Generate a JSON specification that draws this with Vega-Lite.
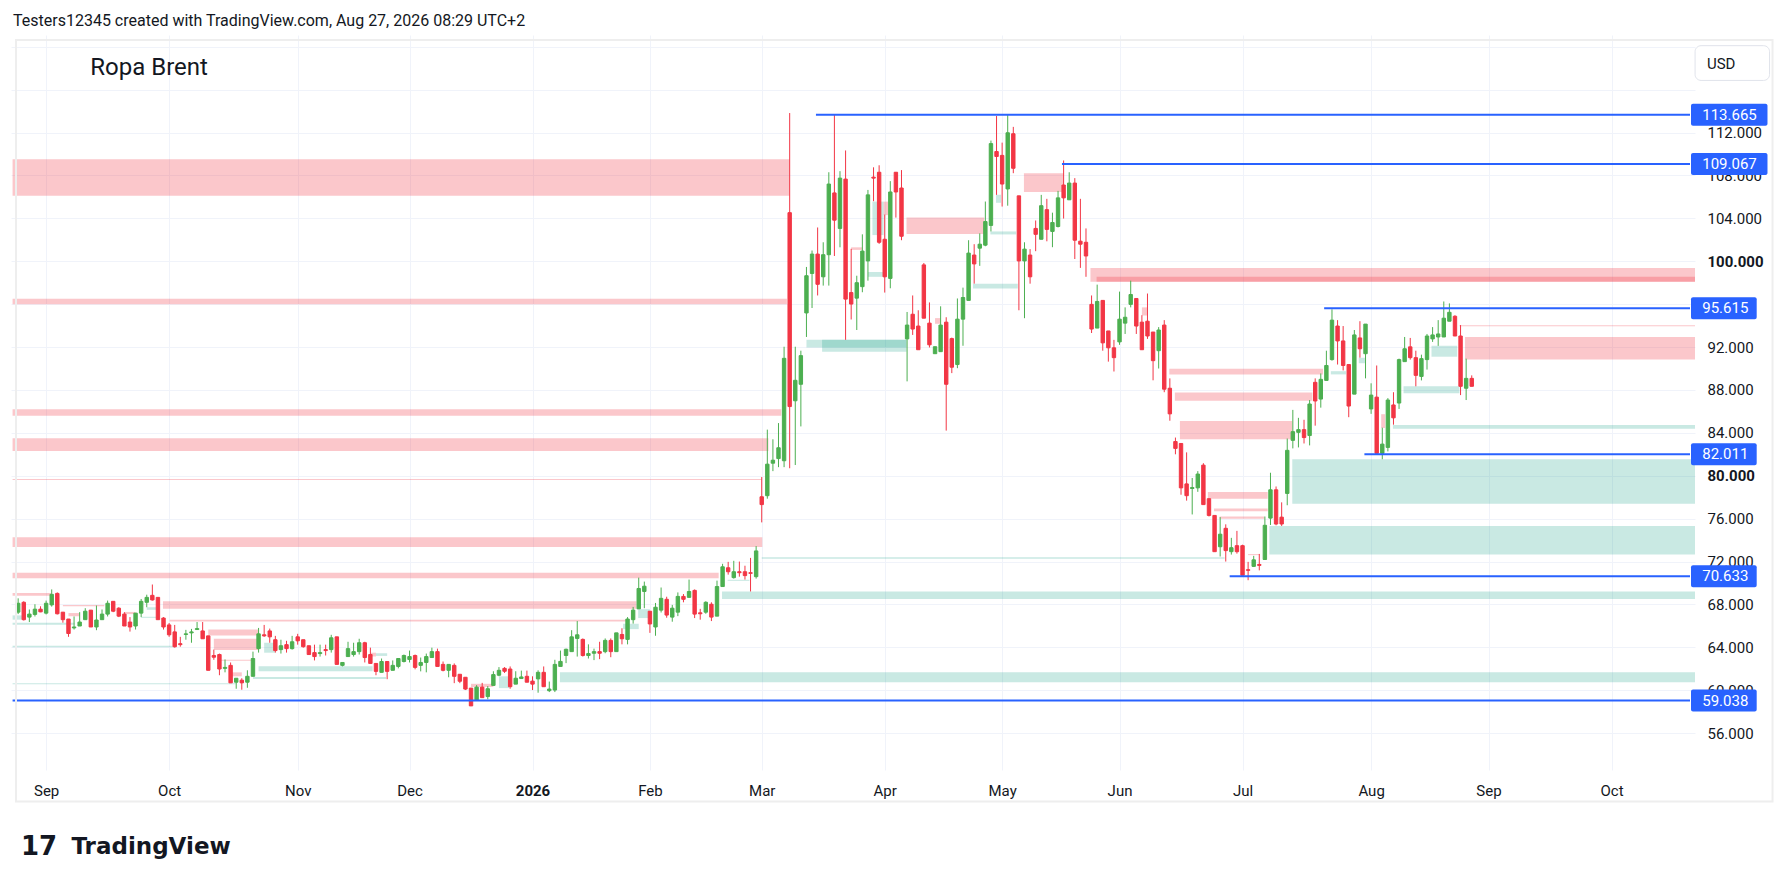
{
  "$schema": "https://vega.github.io/schema/vega-lite/v6.json",
  "description": "Brent crude oil daily candles with supply and demand zones",
  "width": 1684,
  "height": 735,
  "autosize": {"type": "none"},
  "padding": {"left": 11, "top": 35, "right": 96, "bottom": 119},
  "background": "white",
  "config": {
    "view": {"stroke": null},
    "font": "Roboto",
    "axis": {"zindex": 0}
  },
  "title": {
    "text": "Testers12345 created with TradingView.com, Aug 27, 2026 08:29 UTC+2",
    "anchor": "start",
    "frame": "group",
    "offset": 6,
    "dx": 2,
    "fontSize": 16,
    "fontWeight": "normal",
    "color": "#131722"
  },
  "datasets": {
    "candles": [
      {"i":-5,"o":67.28,"h":68.57,"l":67.10,"c":68.11},
      {"i":-4,"o":68.20,"h":68.30,"l":66.50,"c":66.58},
      {"i":-3,"o":66.82,"h":67.53,"l":66.36,"c":67.10},
      {"i":-2,"o":67.07,"h":68.02,"l":66.88,"c":67.56},
      {"i":-1,"o":67.56,"h":67.83,"l":67.28,"c":67.31},
      {"i":0,"o":67.19,"h":68.36,"l":67.07,"c":68.11},
      {"i":1,"o":67.96,"h":69.40,"l":67.80,"c":68.94},
      {"i":2,"o":69.03,"h":69.12,"l":67.07,"c":67.13},
      {"i":3,"o":67.28,"h":67.28,"l":66.30,"c":66.58},
      {"i":4,"o":66.64,"h":66.64,"l":64.98,"c":65.29},
      {"i":5,"o":65.81,"h":66.88,"l":65.66,"c":65.90},
      {"i":6,"o":65.99,"h":67.28,"l":65.99,"c":66.36},
      {"i":7,"o":66.58,"h":67.65,"l":66.58,"c":67.37},
      {"i":8,"o":67.47,"h":67.47,"l":65.90,"c":65.90},
      {"i":9,"o":65.90,"h":67.90,"l":65.60,"c":66.55},
      {"i":10,"o":66.58,"h":67.53,"l":66.58,"c":67.10},
      {"i":11,"o":67.10,"h":68.36,"l":66.88,"c":68.11},
      {"i":12,"o":68.29,"h":68.29,"l":67.28,"c":67.37},
      {"i":13,"o":67.65,"h":67.74,"l":66.82,"c":66.91},
      {"i":14,"o":67.10,"h":67.28,"l":65.99,"c":65.99},
      {"i":15,"o":66.36,"h":66.82,"l":65.47,"c":65.90},
      {"i":16,"o":65.99,"h":67.19,"l":65.66,"c":67.19},
      {"i":17,"o":67.19,"h":68.51,"l":66.82,"c":68.29},
      {"i":18,"o":68.20,"h":68.91,"l":67.74,"c":68.66},
      {"i":19,"o":68.85,"h":69.86,"l":68.36,"c":68.42},
      {"i":20,"o":68.66,"h":68.66,"l":66.58,"c":66.58},
      {"i":21,"o":66.73,"h":66.82,"l":65.66,"c":65.90},
      {"i":22,"o":66.09,"h":66.27,"l":64.98,"c":65.17},
      {"i":23,"o":65.44,"h":66.09,"l":63.97,"c":64.06},
      {"i":24,"o":64.34,"h":64.98,"l":64.06,"c":64.25},
      {"i":25,"o":65.20,"h":65.63,"l":64.71,"c":65.26},
      {"i":26,"o":65.35,"h":65.72,"l":64.43,"c":65.44},
      {"i":27,"o":65.66,"h":66.36,"l":65.66,"c":65.75},
      {"i":28,"o":65.53,"h":66.36,"l":64.80,"c":64.80},
      {"i":29,"o":65.07,"h":65.07,"l":61.86,"c":61.86},
      {"i":30,"o":63.24,"h":63.79,"l":62.84,"c":63.08},
      {"i":31,"o":63.33,"h":63.42,"l":61.40,"c":61.98},
      {"i":32,"o":62.04,"h":62.87,"l":61.67,"c":62.13},
      {"i":33,"o":62.32,"h":62.59,"l":60.69,"c":60.69},
      {"i":34,"o":60.75,"h":61.12,"l":60.14,"c":61.12},
      {"i":35,"o":60.94,"h":61.12,"l":60.05,"c":60.69},
      {"i":36,"o":60.75,"h":61.86,"l":60.23,"c":61.30},
      {"i":37,"o":61.30,"h":63.60,"l":61.30,"c":62.96},
      {"i":38,"o":63.88,"h":65.81,"l":63.51,"c":65.26},
      {"i":39,"o":65.17,"h":66.09,"l":64.98,"c":65.07},
      {"i":40,"o":65.53,"h":65.75,"l":64.43,"c":64.98},
      {"i":41,"o":64.71,"h":65.07,"l":63.51,"c":63.70},
      {"i":42,"o":63.79,"h":64.71,"l":63.42,"c":64.15},
      {"i":43,"o":64.25,"h":64.61,"l":63.51,"c":63.88},
      {"i":44,"o":63.88,"h":65.07,"l":63.79,"c":64.52},
      {"i":45,"o":64.98,"h":65.26,"l":64.25,"c":64.61},
      {"i":46,"o":64.71,"h":64.71,"l":63.97,"c":64.06},
      {"i":47,"o":64.15,"h":64.15,"l":63.33,"c":63.33},
      {"i":48,"o":63.51,"h":64.25,"l":62.78,"c":63.14},
      {"i":49,"o":63.42,"h":64.25,"l":63.14,"c":63.51},
      {"i":50,"o":63.79,"h":64.25,"l":63.24,"c":63.70},
      {"i":51,"o":63.79,"h":65.17,"l":63.51,"c":64.89},
      {"i":52,"o":64.98,"h":64.98,"l":62.41,"c":62.41},
      {"i":53,"o":62.32,"h":62.59,"l":62.22,"c":62.59},
      {"i":54,"o":63.14,"h":64.52,"l":63.14,"c":63.88},
      {"i":55,"o":63.33,"h":64.43,"l":63.14,"c":63.60},
      {"i":56,"o":63.60,"h":64.80,"l":63.33,"c":64.43},
      {"i":57,"o":64.43,"h":64.52,"l":62.59,"c":63.05},
      {"i":58,"o":63.33,"h":63.97,"l":62.50,"c":62.50},
      {"i":59,"o":62.50,"h":62.50,"l":61.40,"c":61.76},
      {"i":60,"o":61.67,"h":62.96,"l":61.67,"c":62.68},
      {"i":61,"o":62.68,"h":62.68,"l":61.03,"c":61.76},
      {"i":62,"o":61.86,"h":62.78,"l":61.86,"c":62.32},
      {"i":63,"o":62.22,"h":62.96,"l":62.04,"c":62.96},
      {"i":64,"o":62.68,"h":63.33,"l":62.59,"c":63.24},
      {"i":65,"o":62.87,"h":63.70,"l":62.59,"c":63.14},
      {"i":66,"o":63.24,"h":63.33,"l":61.95,"c":62.13},
      {"i":67,"o":62.32,"h":63.05,"l":61.76,"c":62.59},
      {"i":68,"o":62.59,"h":63.42,"l":61.67,"c":63.14},
      {"i":69,"o":63.05,"h":63.97,"l":63.05,"c":63.60},
      {"i":70,"o":63.60,"h":63.88,"l":62.22,"c":62.22},
      {"i":71,"o":62.41,"h":62.68,"l":61.76,"c":61.86},
      {"i":72,"o":61.86,"h":62.41,"l":61.21,"c":62.41},
      {"i":73,"o":62.32,"h":62.50,"l":60.66,"c":61.30},
      {"i":74,"o":61.49,"h":61.49,"l":60.66,"c":60.84},
      {"i":75,"o":61.21,"h":61.21,"l":60.02,"c":60.11},
      {"i":76,"o":60.20,"h":60.20,"l":58.54,"c":58.54},
      {"i":77,"o":59.10,"h":60.48,"l":59.04,"c":60.29},
      {"i":78,"o":60.29,"h":60.69,"l":59.31,"c":59.31},
      {"i":79,"o":59.41,"h":60.39,"l":59.16,"c":60.14},
      {"i":80,"o":60.45,"h":61.77,"l":60.45,"c":61.46},
      {"i":81,"o":61.40,"h":62.16,"l":61.31,"c":61.86},
      {"i":82,"o":62.04,"h":62.16,"l":61.61,"c":61.77},
      {"i":83,"o":61.98,"h":62.22,"l":60.14,"c":60.33},
      {"i":84,"o":60.57,"h":61.77,"l":60.57,"c":61.12},
      {"i":85,"o":61.09,"h":61.83,"l":61.06,"c":61.24},
      {"i":86,"o":61.30,"h":61.83,"l":60.75,"c":60.75},
      {"i":87,"o":60.85,"h":61.30,"l":60.02,"c":60.57},
      {"i":88,"o":61.06,"h":61.86,"l":59.77,"c":61.67},
      {"i":89,"o":61.67,"h":62.22,"l":60.33,"c":60.33},
      {"i":90,"o":59.96,"h":60.81,"l":59.83,"c":60.11},
      {"i":91,"o":60.02,"h":62.84,"l":59.83,"c":62.41},
      {"i":92,"o":62.22,"h":63.70,"l":62.22,"c":62.69},
      {"i":93,"o":63.24,"h":63.88,"l":62.53,"c":63.82},
      {"i":94,"o":63.60,"h":65.60,"l":63.60,"c":64.98},
      {"i":95,"o":64.83,"h":66.45,"l":63.14,"c":65.17},
      {"i":96,"o":64.74,"h":64.83,"l":63.14,"c":63.24},
      {"i":97,"o":63.24,"h":64.28,"l":62.96,"c":63.42},
      {"i":98,"o":63.45,"h":63.88,"l":62.81,"c":63.60},
      {"i":99,"o":63.60,"h":64.52,"l":62.90,"c":63.45},
      {"i":100,"o":63.60,"h":64.83,"l":63.45,"c":64.65},
      {"i":101,"o":64.65,"h":64.83,"l":63.08,"c":63.60},
      {"i":102,"o":63.60,"h":65.35,"l":63.60,"c":65.35},
      {"i":103,"o":65.20,"h":65.78,"l":64.28,"c":64.80},
      {"i":104,"o":64.74,"h":66.82,"l":64.28,"c":66.64},
      {"i":105,"o":66.58,"h":67.77,"l":66.21,"c":67.47},
      {"i":106,"o":67.59,"h":70.50,"l":67.59,"c":69.49},
      {"i":107,"o":69.21,"h":70.13,"l":67.65,"c":69.70},
      {"i":108,"o":67.37,"h":67.37,"l":65.35,"c":66.18},
      {"i":109,"o":65.90,"h":68.14,"l":65.08,"c":67.74},
      {"i":110,"o":67.47,"h":69.58,"l":67.25,"c":68.57},
      {"i":111,"o":68.48,"h":68.72,"l":66.76,"c":67.01},
      {"i":112,"o":66.82,"h":67.96,"l":66.39,"c":67.65},
      {"i":113,"o":67.28,"h":69.12,"l":66.91,"c":68.75},
      {"i":114,"o":68.75,"h":68.97,"l":68.20,"c":68.48},
      {"i":115,"o":68.66,"h":70.32,"l":68.66,"c":69.21},
      {"i":116,"o":69.31,"h":69.40,"l":66.73,"c":67.10},
      {"i":117,"o":67.22,"h":67.59,"l":66.58,"c":67.13},
      {"i":118,"o":67.28,"h":68.30,"l":67.13,"c":68.20},
      {"i":119,"o":68.02,"h":68.20,"l":66.45,"c":66.82},
      {"i":120,"o":66.91,"h":70.22,"l":66.91,"c":69.67},
      {"i":121,"o":69.67,"h":71.79,"l":69.67,"c":71.51},
      {"i":122,"o":71.42,"h":71.97,"l":70.78,"c":71.05},
      {"i":123,"o":70.50,"h":72.07,"l":70.41,"c":71.05},
      {"i":124,"o":71.05,"h":72.00,"l":70.59,"c":70.96},
      {"i":125,"o":71.05,"h":71.61,"l":70.32,"c":70.69},
      {"i":126,"o":70.96,"h":72.34,"l":69.21,"c":70.90},
      {"i":127,"o":70.59,"h":73.44,"l":70.41,"c":72.99},
      {"i":128,"o":78.04,"h":79.88,"l":75.65,"c":77.31},
      {"i":129,"o":78.14,"h":84.30,"l":77.86,"c":81.08},
      {"i":130,"o":81.17,"h":83.40,"l":80.43,"c":81.45},
      {"i":131,"o":81.60,"h":84.91,"l":80.80,"c":82.61},
      {"i":132,"o":81.40,"h":92.03,"l":80.80,"c":90.95},
      {"i":133,"o":104.53,"h":113.82,"l":80.70,"c":86.45},
      {"i":134,"o":86.99,"h":92.03,"l":81.00,"c":88.90},
      {"i":135,"o":88.53,"h":91.66,"l":84.60,"c":91.20},
      {"i":136,"o":95.18,"h":99.47,"l":92.94,"c":98.65},
      {"i":137,"o":98.86,"h":101.00,"l":95.64,"c":100.67},
      {"i":138,"o":100.67,"h":103.15,"l":96.81,"c":97.85},
      {"i":139,"o":98.55,"h":101.77,"l":97.73,"c":100.61},
      {"i":140,"o":100.61,"h":108.30,"l":97.73,"c":107.20},
      {"i":141,"o":106.37,"h":113.73,"l":100.49,"c":103.83},
      {"i":142,"o":103.06,"h":108.40,"l":101.30,"c":107.75},
      {"i":143,"o":107.66,"h":110.33,"l":92.67,"c":96.47},
      {"i":144,"o":97.08,"h":101.16,"l":94.57,"c":96.01},
      {"i":145,"o":96.56,"h":98.65,"l":93.59,"c":98.00},
      {"i":146,"o":97.63,"h":102.51,"l":97.11,"c":100.95},
      {"i":147,"o":100.03,"h":106.65,"l":98.19,"c":106.19},
      {"i":148,"o":107.84,"h":108.76,"l":105.60,"c":107.75},
      {"i":149,"o":108.30,"h":108.95,"l":101.62,"c":101.77},
      {"i":150,"o":102.05,"h":104.35,"l":97.08,"c":98.55},
      {"i":151,"o":98.40,"h":107.47,"l":97.48,"c":106.46},
      {"i":152,"o":108.30,"h":108.30,"l":104.07,"c":106.46},
      {"i":153,"o":106.83,"h":108.50,"l":101.96,"c":102.33},
      {"i":154,"o":92.76,"h":95.27,"l":88.80,"c":94.05},
      {"i":155,"o":95.06,"h":96.81,"l":93.13,"c":93.68},
      {"i":156,"o":93.96,"h":95.43,"l":91.75,"c":91.75},
      {"i":157,"o":99.66,"h":99.84,"l":94.69,"c":94.69},
      {"i":158,"o":94.23,"h":96.16,"l":91.96,"c":92.21},
      {"i":159,"o":91.38,"h":92.03,"l":91.38,"c":92.03},
      {"i":160,"o":91.57,"h":95.80,"l":91.57,"c":94.05},
      {"i":161,"o":94.32,"h":94.78,"l":84.21,"c":88.53},
      {"i":162,"o":92.79,"h":92.88,"l":89.57,"c":90.12},
      {"i":163,"o":90.37,"h":96.53,"l":90.03,"c":94.60},
      {"i":164,"o":94.60,"h":97.54,"l":92.12,"c":96.62},
      {"i":165,"o":96.35,"h":101.96,"l":96.35,"c":100.76},
      {"i":166,"o":100.58,"h":101.59,"l":97.91,"c":99.75},
      {"i":167,"o":101.22,"h":102.60,"l":99.57,"c":101.59},
      {"i":168,"o":101.50,"h":105.57,"l":101.40,"c":103.70},
      {"i":169,"o":103.34,"h":111.25,"l":102.78,"c":110.97},
      {"i":170,"o":110.23,"h":113.54,"l":106.19,"c":109.77},
      {"i":171,"o":109.87,"h":111.06,"l":105.10,"c":107.20},
      {"i":172,"o":106.74,"h":113.64,"l":105.18,"c":111.98},
      {"i":173,"o":111.89,"h":112.53,"l":108.21,"c":108.67},
      {"i":174,"o":106.10,"h":106.10,"l":95.43,"c":100.03},
      {"i":175,"o":100.03,"h":101.77,"l":94.69,"c":101.13},
      {"i":176,"o":100.58,"h":101.13,"l":97.91,"c":98.55},
      {"i":177,"o":103.06,"h":103.80,"l":100.94,"c":102.51},
      {"i":178,"o":102.05,"h":106.19,"l":102.05,"c":105.18},
      {"i":179,"o":104.81,"h":105.82,"l":101.86,"c":102.97},
      {"i":180,"o":102.78,"h":104.53,"l":101.31,"c":103.61},
      {"i":181,"o":103.24,"h":106.56,"l":103.15,"c":105.91},
      {"i":182,"o":107.11,"h":109.40,"l":103.98,"c":105.91},
      {"i":183,"o":105.73,"h":108.30,"l":105.73,"c":107.29},
      {"i":184,"o":107.29,"h":107.75,"l":100.21,"c":101.96},
      {"i":185,"o":101.87,"h":105.82,"l":99.38,"c":101.59},
      {"i":186,"o":101.77,"h":103.06,"l":98.55,"c":100.49},
      {"i":187,"o":95.98,"h":96.81,"l":93.31,"c":93.68},
      {"i":188,"o":93.77,"h":97.82,"l":93.77,"c":96.25},
      {"i":189,"o":96.35,"h":96.35,"l":91.66,"c":92.39},
      {"i":190,"o":93.50,"h":93.50,"l":90.64,"c":91.93},
      {"i":191,"o":91.93,"h":92.67,"l":89.72,"c":91.01},
      {"i":192,"o":92.48,"h":97.17,"l":92.21,"c":94.60},
      {"i":193,"o":94.23,"h":95.70,"l":93.22,"c":94.78},
      {"i":194,"o":95.98,"h":98.19,"l":95.70,"c":96.90},
      {"i":195,"o":96.53,"h":96.53,"l":93.22,"c":93.96},
      {"i":196,"o":94.32,"h":94.97,"l":91.75,"c":91.75},
      {"i":197,"o":94.41,"h":96.99,"l":92.76,"c":93.03},
      {"i":198,"o":93.40,"h":93.40,"l":88.90,"c":90.73},
      {"i":199,"o":91.66,"h":93.86,"l":90.00,"c":93.59},
      {"i":200,"o":94.05,"h":94.51,"l":87.79,"c":88.07},
      {"i":201,"o":88.16,"h":89.08,"l":85.13,"c":85.77},
      {"i":202,"o":83.19,"h":83.56,"l":82.00,"c":82.55},
      {"i":203,"o":83.01,"h":83.01,"l":78.23,"c":78.87},
      {"i":204,"o":79.24,"h":82.18,"l":77.68,"c":78.14},
      {"i":205,"o":78.81,"h":79.79,"l":76.39,"c":78.90},
      {"i":206,"o":78.87,"h":80.43,"l":78.50,"c":80.16},
      {"i":207,"o":80.99,"h":81.17,"l":77.31,"c":77.31},
      {"i":208,"o":77.86,"h":77.86,"l":76.20,"c":76.30},
      {"i":209,"o":76.30,"h":76.30,"l":72.92,"c":72.92},
      {"i":210,"o":73.38,"h":76.14,"l":72.47,"c":74.55},
      {"i":211,"o":75.10,"h":75.47,"l":72.00,"c":73.02},
      {"i":212,"o":72.92,"h":74.21,"l":72.65,"c":73.29},
      {"i":213,"o":73.48,"h":74.86,"l":72.74,"c":72.92},
      {"i":214,"o":73.48,"h":73.57,"l":70.72,"c":70.72},
      {"i":215,"o":71.24,"h":71.97,"l":70.26,"c":71.18},
      {"i":216,"o":71.55,"h":72.53,"l":71.49,"c":72.16},
      {"i":217,"o":71.73,"h":72.71,"l":71.18,"c":71.64},
      {"i":218,"o":72.19,"h":76.20,"l":72.19,"c":75.38},
      {"i":219,"o":76.05,"h":80.28,"l":75.41,"c":78.69},
      {"i":220,"o":78.69,"h":79.00,"l":75.38,"c":75.50},
      {"i":221,"o":76.14,"h":77.52,"l":75.32,"c":75.50},
      {"i":222,"o":78.35,"h":83.47,"l":77.25,"c":82.37},
      {"i":223,"o":83.30,"h":86.14,"l":82.55,"c":84.11},
      {"i":224,"o":84.05,"h":85.40,"l":82.64,"c":84.30},
      {"i":225,"o":84.30,"h":85.22,"l":83.01,"c":83.56},
      {"i":226,"o":83.75,"h":87.06,"l":82.83,"c":86.69},
      {"i":227,"o":88.71,"h":89.08,"l":84.67,"c":86.97},
      {"i":228,"o":87.15,"h":89.54,"l":86.35,"c":88.99},
      {"i":229,"o":88.89,"h":91.66,"l":88.89,"c":90.28},
      {"i":230,"o":90.83,"h":95.52,"l":90.73,"c":94.51},
      {"i":231,"o":93.96,"h":94.51,"l":90.37,"c":92.57},
      {"i":232,"o":92.57,"h":93.96,"l":89.82,"c":90.28},
      {"i":233,"o":90.37,"h":90.37,"l":85.46,"c":86.50},
      {"i":234,"o":87.61,"h":93.59,"l":87.61,"c":93.13},
      {"i":235,"o":92.85,"h":94.41,"l":91.01,"c":91.84},
      {"i":236,"o":91.38,"h":94.14,"l":89.08,"c":94.14},
      {"i":237,"o":86.23,"h":88.62,"l":85.77,"c":87.52},
      {"i":238,"o":87.33,"h":90.28,"l":82.09,"c":82.09},
      {"i":239,"o":82.09,"h":84.48,"l":81.54,"c":82.95},
      {"i":240,"o":82.64,"h":87.24,"l":82.27,"c":87.06},
      {"i":241,"o":86.60,"h":87.79,"l":84.76,"c":85.40},
      {"i":242,"o":86.78,"h":90.92,"l":86.23,"c":90.83},
      {"i":243,"o":90.64,"h":92.94,"l":90.64,"c":91.84},
      {"i":244,"o":92.02,"h":92.85,"l":90.83,"c":91.01},
      {"i":245,"o":91.01,"h":91.66,"l":88.34,"c":89.36},
      {"i":246,"o":89.26,"h":91.29,"l":88.89,"c":90.92},
      {"i":247,"o":90.83,"h":93.22,"l":89.90,"c":93.03},
      {"i":248,"o":92.76,"h":93.86,"l":92.48,"c":93.13},
      {"i":249,"o":92.94,"h":94.51,"l":92.11,"c":93.22},
      {"i":250,"o":92.94,"h":96.25,"l":92.94,"c":94.69},
      {"i":251,"o":94.41,"h":96.07,"l":94.41,"c":95.24},
      {"i":252,"o":94.87,"h":94.97,"l":93.03,"c":93.03},
      {"i":253,"o":93.03,"h":94.05,"l":87.52,"c":88.34},
      {"i":254,"o":88.16,"h":90.92,"l":87.06,"c":89.08},
      {"i":255,"o":89.08,"h":89.36,"l":88.34,"c":88.34}
    ],
    "zones": [
      {"k":"s","x1":-6,"x2":133.0,"lo":106.1,"hi":109.5},
      {"k":"s","x1":-6,"x2":132.5,"lo":96.0,"hi":96.5},
      {"k":"s","x1":-6,"x2":131.5,"lo":85.6,"hi":86.2},
      {"k":"s","x1":-6,"x2":129.2,"lo":82.3,"hi":83.5},
      {"k":"s","x1":-6,"x2":128.0,"lo":79.6,"hi":79.7},
      {"k":"s","x1":-6,"x2":128.1,"lo":73.35,"hi":74.27},
      {"k":"s","x1":-6,"x2":120.3,"lo":70.44,"hi":70.96},
      {"k":"s","x1":20.9,"x2":105.6,"lo":67.6,"hi":68.3},
      {"k":"s","x1":22.1,"x2":103.8,"lo":66.4,"hi":66.57},
      {"k":"s","x1":-6,"x2":1,"lo":68.81,"hi":69.06},
      {"k":"s","x1":3,"x2":10.4,"lo":67.83,"hi":67.95},
      {"k":"s","x1":4,"x2":6,"lo":66.9,"hi":67.2},
      {"k":"s","x1":14,"x2":16,"lo":67.1,"hi":67.3},
      {"k":"s","x1":29,"x2":38,"lo":65.1,"hi":65.66},
      {"k":"s","x1":30,"x2":38,"lo":63.76,"hi":64.8},
      {"k":"s","x1":31,"x2":37,"lo":62.75,"hi":62.84},
      {"k":"s","x1":33,"x2":35,"lo":61.3,"hi":61.67},
      {"k":"s","x1":58,"x2":59,"lo":63.15,"hi":63.5},
      {"k":"s","x1":76,"x2":80,"lo":60.3,"hi":60.6},
      {"k":"s","x1":144,"x2":146,"lo":101.06,"hi":101.3},
      {"k":"s","x1":149.8,"x2":150.6,"lo":104.3,"hi":105.56},
      {"k":"s","x1":153.9,"x2":167.8,"lo":102.53,"hi":104.07},
      {"k":"s","x1":159,"x2":160,"lo":94.17,"hi":94.7},
      {"k":"s","x1":174.9,"x2":182,"lo":106.46,"hi":108.2},
      {"k":"s","x1":186.8,"x2":300,"lo":98.1,"hi":99.38},
      {"k":"s","x1":187.9,"x2":300,"lo":98.1,"hi":98.55},
      {"k":"s","x1":196,"x2":197,"lo":94.94,"hi":95.7},
      {"k":"s","x1":200.9,"x2":228.4,"lo":89.45,"hi":89.97},
      {"k":"s","x1":201.9,"x2":226.5,"lo":86.99,"hi":87.77},
      {"k":"s","x1":202.8,"x2":222.9,"lo":83.4,"hi":85.1},
      {"k":"s","x1":207.8,"x2":218.5,"lo":77.86,"hi":78.48},
      {"k":"s","x1":208.9,"x2":218.5,"lo":76.7,"hi":76.94},
      {"k":"s","x1":209.9,"x2":217.9,"lo":76.0,"hi":76.2},
      {"k":"s","x1":215,"x2":217,"lo":72.6,"hi":72.7},
      {"k":"s","x1":238.8,"x2":239.5,"lo":84.45,"hi":85.74},
      {"k":"s","x1":252.8,"x2":300,"lo":93.95,"hi":94.04},
      {"k":"s","x1":253.8,"x2":300,"lo":90.83,"hi":92.94},
      {"k":"d","x1":-6,"x2":-4.3,"lo":66.58,"hi":66.98},
      {"k":"d","x1":-6,"x2":5.1,"lo":66.1,"hi":66.3},
      {"k":"d","x1":-6,"x2":23.2,"lo":64.0,"hi":64.16},
      {"k":"d","x1":-6,"x2":34.1,"lo":60.57,"hi":60.66},
      {"k":"d","x1":17,"x2":19.7,"lo":66.75,"hi":66.85},
      {"k":"d","x1":18,"x2":19.7,"lo":67.5,"hi":67.74},
      {"k":"d","x1":37,"x2":60.8,"lo":61.06,"hi":61.24},
      {"k":"d","x1":38,"x2":58.4,"lo":61.76,"hi":62.23},
      {"k":"d","x1":39,"x2":41,"lo":63.5,"hi":64.43},
      {"k":"d","x1":59,"x2":61,"lo":63.2,"hi":63.45},
      {"k":"d","x1":81,"x2":82.8,"lo":60.2,"hi":61.3},
      {"k":"d","x1":91.9,"x2":300,"lo":60.75,"hi":61.67},
      {"k":"d","x1":103.2,"x2":106,"lo":65.7,"hi":66.2},
      {"k":"d","x1":105.9,"x2":108,"lo":66.73,"hi":67.56},
      {"k":"d","x1":120.9,"x2":300,"lo":68.5,"hi":69.2},
      {"k":"d","x1":121.9,"x2":125.8,"lo":70.2,"hi":70.3},
      {"k":"d","x1":128,"x2":210.8,"lo":72.25,"hi":72.4},
      {"k":"d","x1":136,"x2":153.9,"lo":91.96,"hi":92.67},
      {"k":"d","x1":138.8,"x2":153.9,"lo":91.56,"hi":92.67},
      {"k":"d","x1":147,"x2":150,"lo":98.55,"hi":99.0},
      {"k":"d","x1":147.8,"x2":149.8,"lo":102.44,"hi":105.56},
      {"k":"d","x1":165.8,"x2":173.8,"lo":97.45,"hi":97.9},
      {"k":"d","x1":168.9,"x2":173.5,"lo":102.5,"hi":102.78},
      {"k":"d","x1":169.9,"x2":170.8,"lo":105.45,"hi":106.2},
      {"k":"d","x1":218.8,"x2":300,"lo":72.65,"hi":75.31},
      {"k":"d","x1":222.9,"x2":300,"lo":77.4,"hi":81.54},
      {"k":"d","x1":229.8,"x2":232.5,"lo":89.45,"hi":89.75},
      {"k":"d","x1":234.8,"x2":235.9,"lo":90.49,"hi":91.0},
      {"k":"d","x1":240.9,"x2":300,"lo":84.39,"hi":84.73},
      {"k":"d","x1":242.8,"x2":252.8,"lo":87.7,"hi":88.35},
      {"k":"d","x1":247.8,"x2":252.4,"lo":91.1,"hi":92.12}
    ],
    "levels": [
      {"p":113.665,"x1":137.7,"t":"113.665"},
      {"p":109.067,"x1":181.7,"t":"109.067"},
      {"p":95.615,"x1":228.6,"t":"95.615"},
      {"p":82.011,"x1":235.8,"t":"82.011"},
      {"p":70.633,"x1":211.7,"t":"70.633"},
      {"p":59.038,"x1":-6,"t":"59.038"}
    ]
  },
  "layer": [
    {
      "data": {"name": "zones"},
      "mark": {"type": "rect", "clip": true},
      "encoding": {
        "x": {
          "field": "x1", "type": "quantitative",
          "scale": {"domain": [-5.388, 294.04], "nice": false, "zero": false},
          "axis": {
            "title": null,
            "values": [0, 22, 45, 65, 87, 108, 128, 150, 171, 192, 214, 237, 258, 280],
            "labelExpr": "['Sep','Oct','Nov','Dec','2026','Feb','Mar','Apr','May','Jun','Jul','Aug','Sep','Oct'][indexof([0,22,45,65,87,108,128,150,171,192,214,237,258,280], datum.value)]",
            "grid": true, "gridColor": "#f0f3fa", "gridWidth": 1,
            "ticks": false, "tickSize": 0, "domain": false,
            "labelPadding": 20, "labelBaseline": "middle",
            "labelFontSize": 15, "labelColor": "#131722",
            "labelFontWeight": {"condition": {"test": "datum.value == 87", "value": "bold"}, "value": "normal"},
            "labelFlush": false, "labelOverlap": false, "zindex": 0
          }
        },
        "x2": {"field": "x2"},
        "y": {
          "field": "lo", "type": "quantitative",
          "scale": {"domain": [53.03, 120.63], "nice": false, "zero": false},
          "axis": {
            "title": null, "orient": "right",
            "values": [56, 60, 64, 68, 72, 76, 80, 84, 88, 92, 96, 100, 104, 108, 112, 116, 120],
            "labelExpr": "datum.value > 113 ? '' : format(datum.value, '.3f')",
            "grid": true, "gridColor": "#f0f3fa", "gridWidth": 1,
            "ticks": false, "tickSize": 0, "domain": false,
            "labelPadding": 12, "labelAlign": "left", "labelBaseline": "middle",
            "labelFontSize": 15, "labelColor": "#131722",
            "labelFontWeight": {"condition": {"test": "datum.value == 100 || datum.value == 80", "value": "bold"}, "value": "normal"},
            "labelOverlap": false, "labelFlush": false, "zindex": 0
          }
        },
        "y2": {"field": "hi"},
        "color": {"field": "k", "type": "nominal", "scale": {"domain": ["s", "d"], "range": ["#f23645", "#089981"]}, "legend": null},
        "opacity": {"field": "k", "type": "nominal", "scale": {"domain": ["s", "d"], "range": [0.28, 0.22]}, "legend": null}
      }
    },
    {
      "data": {"name": "candles"},
      "mark": {"type": "rule", "strokeWidth": 1},
      "encoding": {
        "x": {"field": "i", "type": "quantitative"},
        "y": {"field": "l", "type": "quantitative"},
        "y2": {"field": "h"},
        "color": {"condition": {"test": "datum.c >= datum.o", "value": "#4caf50"}, "value": "#f23645"}
      }
    },
    {
      "data": {"name": "candles"},
      "mark": {"type": "bar", "width": 3.4, "strokeWidth": 1},
      "encoding": {
        "x": {"field": "i", "type": "quantitative"},
        "y": {"field": "o", "type": "quantitative"},
        "y2": {"field": "c"},
        "color": {"condition": {"test": "datum.c >= datum.o", "value": "#4caf50"}, "value": "#f23645"},
        "stroke": {"condition": {"test": "datum.c >= datum.o", "value": "#4caf50"}, "value": "#f23645"}
      }
    },
    {
      "data": {"name": "levels"},
      "mark": {"type": "rule", "strokeWidth": 2, "color": "#2962ff", "clip": true},
      "encoding": {
        "x": {"field": "x1", "type": "quantitative"},
        "x2": {"datum": 294.04},
        "y": {"field": "p", "type": "quantitative"}
      }
    },
    {
      "data": {"name": "levels"},
      "transform": [{"filter": "length(datum.t) > 6"}],
      "mark": {"type": "bar", "height": 22, "cornerRadius": 2, "color": "#2962ff"},
      "encoding": {
        "x": {"datum": 294.22, "type": "quantitative"},
        "x2": {"datum": 307.9},
        "y": {"field": "p", "type": "quantitative"}
      }
    },
    {
      "data": {"name": "levels"},
      "transform": [{"filter": "length(datum.t) <= 6"}],
      "mark": {"type": "bar", "height": 22, "cornerRadius": 2, "color": "#2962ff"},
      "encoding": {
        "x": {"datum": 294.22, "type": "quantitative"},
        "x2": {"datum": 305.97},
        "y": {"field": "p", "type": "quantitative"}
      }
    },
    {
      "data": {"name": "levels"},
      "mark": {"type": "text", "align": "left", "baseline": "middle", "fontSize": 15, "color": "white"},
      "encoding": {
        "x": {"datum": 296.23, "type": "quantitative"},
        "y": {"field": "p", "type": "quantitative"},
        "text": {"field": "t"}
      }
    },
    {
      "data": {"values": [{"label": "Ropa Brent"}]},
      "mark": {"type": "text", "align": "left", "baseline": "middle", "fontSize": 24, "color": "#131722"},
      "encoding": {
        "x": {"datum": 7.89, "type": "quantitative"},
        "y": {"datum": 118.02, "type": "quantitative"},
        "text": {"field": "label"}
      }
    },
    {
      "data": {"values": [{"label": "USD"}]},
      "mark": {"type": "rect", "fill": "white", "stroke": "#e0e3eb", "strokeWidth": 1, "cornerRadius": 6},
      "encoding": {
        "x": {"datum": 294.95, "type": "quantitative"},
        "x2": {"datum": 308.27},
        "y": {"datum": 120.1, "type": "quantitative"},
        "y2": {"datum": 116.86}
      }
    },
    {
      "data": {"values": [{"label": "USD"}]},
      "mark": {"type": "text", "align": "left", "baseline": "middle", "fontSize": 15, "color": "#131722"},
      "encoding": {
        "x": {"datum": 297.07, "type": "quantitative"},
        "y": {"datum": 118.42, "type": "quantitative"},
        "text": {"field": "label"}
      }
    },
    {
      "data": {"values": [{"label": "frame"}]},
      "mark": {"type": "rect", "filled": false, "stroke": "#eeeeee", "strokeWidth": 2},
      "encoding": {
        "x": {"datum": -5.388, "type": "quantitative"},
        "x2": {"datum": 308.8},
        "y": {"datum": 120.63, "type": "quantitative"},
        "y2": {"datum": 49.62}
      }
    },
    {
      "data": {"values": [{"label": "17"}]},
      "mark": {"type": "text", "align": "left", "baseline": "middle", "font": "DejaVu Sans", "fontSize": 26, "fontWeight": "bold", "color": "#131722"},
      "encoding": {
        "x": {"datum": -4.5, "type": "quantitative"},
        "y": {"datum": 45.39, "type": "quantitative"},
        "text": {"field": "label"}
      }
    },
    {
      "data": {"values": [{"label": "TradingView"}]},
      "mark": {"type": "text", "align": "left", "baseline": "middle", "font": "DejaVu Sans", "fontSize": 23, "fontWeight": "bold", "color": "#131722"},
      "encoding": {
        "x": {"datum": 4.52, "type": "quantitative"},
        "y": {"datum": 45.39, "type": "quantitative"},
        "text": {"field": "label"}
      }
    }
  ]
}
